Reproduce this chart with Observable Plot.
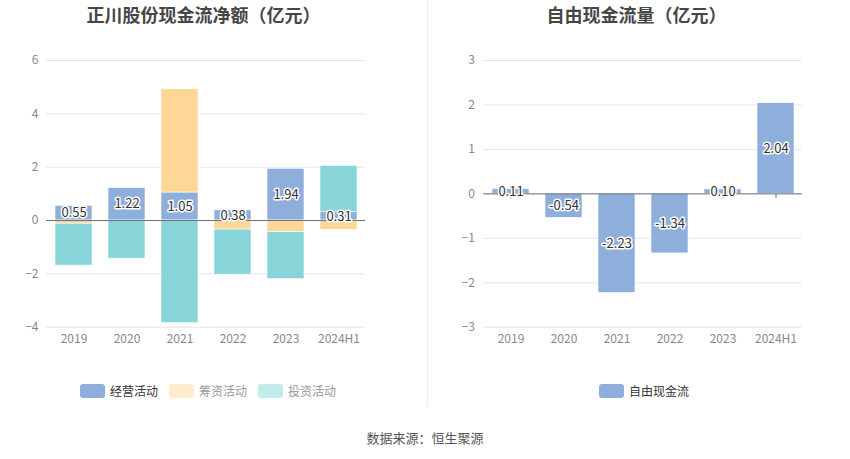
<!DOCTYPE html>
<html>
<head>
<meta charset="utf-8">
<script src="https://cdn.jsdelivr.net/npm/d3@7"></script>
<script src="https://cdn.jsdelivr.net/npm/@observablehq/plot@0.6"></script>
<style>
  html, body { margin: 0; padding: 0; background: #fff; }
  body { font-family: "Noto Sans CJK SC", "Noto Sans", sans-serif; }
  #wrap { position: relative; width: 850px; height: 459px; overflow: hidden; }
  .title { position: absolute; top: 2px; font-size: 18px; font-weight: bold; color: #464646; text-align: center; width: 425px; line-height: 24px; }
  .chart { position: absolute; top: 0; }
  .legend { position: absolute; top: 382px; display: flex; align-items: center; font-size: 12px; }
  .legend .item { display: flex; align-items: center; margin-right: 11px; }
  .legend .sw { width: 25px; height: 14px; border-radius: 3px; margin-right: 5px; }
  #divider { position: absolute; left: 427px; top: 0; width: 1px; height: 407px; background: #eeeeee; }
  #source { position: absolute; top: 428px; left: 0; width: 850px; text-align: center; font-size: 13px; color: #555; }
</style>
</head>
<body>
<div id="wrap">
  <div class="title" style="left:-9px">正川股份现金流净额（亿元）</div>
  <div class="title" style="left:424px">自由现金流量（亿元）</div>
  <div id="left" class="chart" style="left:0"></div>
  <div id="right" class="chart" style="left:425px"></div>
  <div id="divider"></div>
  <div id="legendL" class="legend" style="left:80px"></div>
  <div id="legendR" class="legend" style="left:599px"></div>
  <div id="source">数据来源：恒生聚源</div>
</div>
<script>
// ---- data ----
const years = ["2019", "2020", "2021", "2022", "2023", "2024H1"];
const operating = [0.55, 1.22, 1.05, 0.38, 1.94, 0.31];
const financing = [-0.12, 0.00, 3.87, -0.34, -0.44, -0.35];
const investing = [-1.57, -1.43, -3.85, -1.69, -1.76, 1.74];
const freeCashFlow = [0.11, -0.54, -2.23, -1.34, 0.10, 2.04];
const seriesNames = ["经营活动", "筹资活动", "投资活动"];
const seriesColors = ["#8eaedb", "#fed797", "#87d5d8"];
const legendSwatch = ["#8eaedb", "#ffeccc", "#c2ebeb"];
const legendText = ["#333", "#999", "#999"];
const leftTicks = [-4, -2, 0, 2, 4, 6];
const rightTicks = [-3, -2, -1, 0, 1, 2, 3];
const fcfName = "自由现金流";

const font = '"Noto Sans CJK SC", "Noto Sans", sans-serif';

// long table for stacking
const flows = [];
[operating, financing, investing].forEach((arr, si) => {
  years.forEach((y, i) => flows.push({year: y, series: seriesNames[si], value: arr[i]}));
});
const opRows = years.map((y, i) => ({year: y, value: operating[i]}));
const fcfRows = years.map((y, i) => ({year: y, value: freeCashFlow[i]}));

const common = {
  width: 425,
  height: 350,
  marginTop: 60,
  marginBottom: 23.3,
  style: {fontFamily: font, fontSize: "12px", background: "transparent"}
};

const left = Plot.plot({
  ...common,
  marginLeft: 46,
  marginRight: 60,
  x: {domain: years, paddingInner: 0.31, paddingOuter: 0.155, label: null},
  y: {domain: [-4, 6], label: null},
  color: {domain: seriesNames, range: seriesColors},
  marks: [
    Plot.gridY(leftTicks, {stroke: "#e0e6f1", strokeOpacity: 1}),
    Plot.axisY(leftTicks, {tickSize: 0, tickPadding: 8, label: null, fill: "#888", fontSize: 12}),
    Plot.axisX({tickSize: 0, tickPadding: 7, label: null, fill: "#888", fontSize: 12}),
    Plot.ruleX(years, {x: d => d, y1: 0, y2: 0, insetBottom: -5, stroke: "#6e7079"}),
    Plot.barY(flows, {x: "year", y: "value", fill: "series", stroke: "#fff", strokeWidth: 0.6}),
    Plot.ruleY([0], {stroke: "#6e7079"}),
    Plot.text(opRows, {x: "year", y: d => d.value / 2, text: d => d.value.toFixed(2),
      fill: "#333", stroke: "#fff", strokeWidth: 3, fontSize: 13})
  ]
});
document.getElementById("left").appendChild(left);

const right = Plot.plot({
  ...common,
  marginLeft: 58.3,
  marginRight: 48.3,
  x: {domain: years, paddingInner: 0.31, paddingOuter: 0.155, label: null},
  y: {domain: [-3, 3], label: null},
  marks: [
    Plot.gridY(rightTicks, {stroke: "#e0e6f1", strokeOpacity: 1}),
    Plot.axisY(rightTicks, {tickSize: 0, tickPadding: 9, label: null, fill: "#888", fontSize: 12}),
    Plot.axisX({tickSize: 0, tickPadding: 7, label: null, fill: "#888", fontSize: 12}),
    Plot.ruleX(years, {x: d => d, y1: 0, y2: 0, insetBottom: -5, stroke: "#6e7079"}),
    Plot.barY(fcfRows, {x: "year", y: "value", fill: seriesColors[0], stroke: "#fff", strokeWidth: 0.6}),
    Plot.ruleY([0], {stroke: "#6e7079"}),
    Plot.text(fcfRows, {x: "year", y: d => d.value / 2, text: d => d.value.toFixed(2),
      fill: "#333", stroke: "#fff", strokeWidth: 3, fontSize: 13})
  ]
});
document.getElementById("right").appendChild(right);

// legends
function legend(el, names, swatches, texts) {
  names.forEach((n, i) => {
    const item = document.createElement("div");
    item.className = "item";
    item.innerHTML = `<div class="sw" style="background:${swatches[i]}"></div><span style="color:${texts[i]}">${n}</span>`;
    el.appendChild(item);
  });
}
legend(document.getElementById("legendL"), seriesNames, legendSwatch, legendText);
legend(document.getElementById("legendR"), [fcfName], [seriesColors[0]], ["#333"]);
</script>
</body>
</html>
